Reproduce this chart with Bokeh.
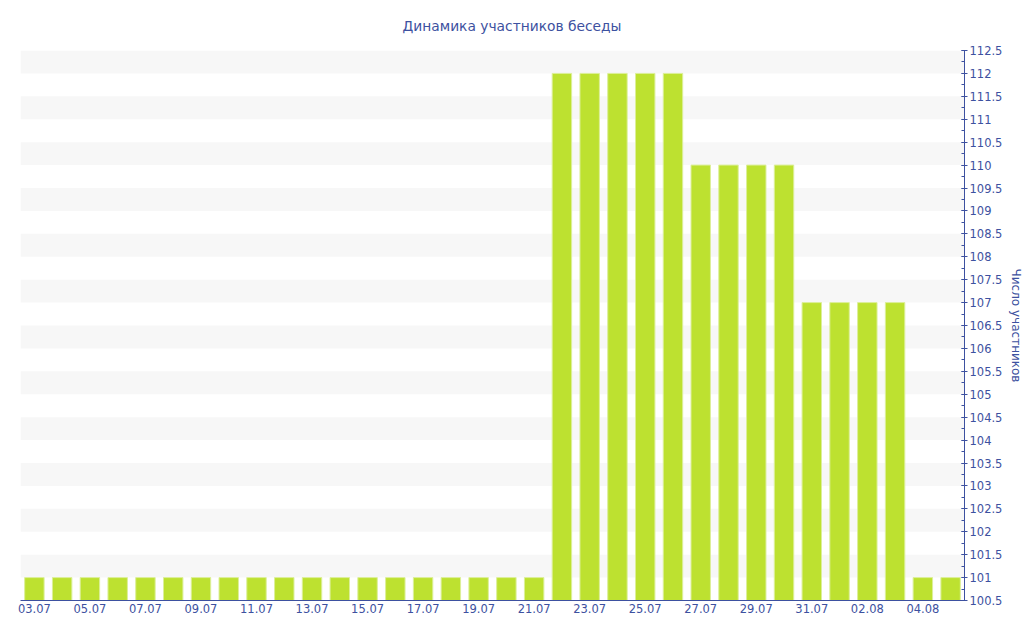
from bokeh.plotting import figure
from bokeh.models import Range1d, SingleIntervalTicker, FixedTicker, ColumnDataSource
from bokeh.embed import file_html
from bokeh.resources import INLINE

title_text = "Динамика участников беседы"
y_label = "Число участников"

dates = ["03.07", "04.07", "05.07", "06.07", "07.07", "08.07", "09.07", "10.07",
         "11.07", "12.07", "13.07", "14.07", "15.07", "16.07", "17.07", "18.07",
         "19.07", "20.07", "21.07", "22.07", "23.07", "24.07", "25.07", "26.07",
         "27.07", "28.07", "29.07", "30.07", "31.07", "01.08", "02.08", "03.08",
         "04.08", "05.08"]
members = [101, 101, 101, 101, 101, 101, 101, 101,
           101, 101, 101, 101, 101, 101, 101, 101,
           101, 101, 101, 112, 112, 112, 112, 112,
           110, 110, 110, 110, 107, 107, 107, 107,
           101, 101]
y_ticks = [100.5, 101, 101.5, 102, 102.5, 103, 103.5, 104, 104.5, 105, 105.5,
           106, 106.5, 107, 107.5, 108, 108.5, 109, 109.5, 110, 110.5, 111,
           111.5, 112, 112.5]
y_tick_labels = ["100.5", "101", "101.5", "102", "102.5", "103", "103.5", "104",
                 "104.5", "105", "105.5", "106", "106.5", "107", "107.5", "108",
                 "108.5", "109", "109.5", "110", "110.5", "111", "111.5", "112",
                 "112.5"]

TEXT = "#3d51a0"
BAR = "#bde130"
FONT = "DejaVu Sans"

idx = list(range(len(dates)))
src = ColumnDataSource(dict(x=idx, top=members, date=dates))

p = figure(frame_width=944, frame_height=550,
           output_backend="svg", toolbar_location=None,
           x_range=Range1d(-0.5, len(dates) - 0.5),
           y_range=Range1d(y_ticks[0], y_ticks[-1]),
           y_axis_location="right",
           min_border_left=20, min_border_top=50, min_border_bottom=36,
           min_border_right=0)
p.outline_line_color = None
p.background_fill_color = "white"

# title (left-aligned with an offset so that it sits centred on the page)
p.title.text = title_text
p.title.align = "left"
p.title.offset = 382
p.title.vertical_align = "top"
p.title.standoff = 30
p.title.text_font = FONT
p.title.text_font_size = "13.8px"
p.title.text_font_style = "normal"
p.title.text_color = TEXT

p.vbar(x="x", top="top", bottom=y_ticks[0], width=0.7, source=src,
       fill_color=BAR, line_color="#dcef99", line_width=1)

# y axis
yax = p.yaxis[0]
yax.ticker = SingleIntervalTicker(interval=0.5, num_minor_ticks=2)
yax.major_label_overrides = {t: l for t, l in zip(y_ticks, y_tick_labels)}
yax.axis_label = y_label
yax.axis_label_text_font = FONT
yax.axis_label_text_font_size = "12px"
yax.axis_label_text_font_style = "normal"
yax.axis_label_text_color = TEXT
yax.axis_label_standoff = 4
yax.major_label_text_font = FONT
yax.major_label_text_font_size = "11.5px"
yax.major_label_text_color = TEXT
yax.major_label_standoff = 2
yax.axis_line_color = TEXT
yax.major_tick_line_color = TEXT
yax.minor_tick_line_color = TEXT
yax.major_tick_in = 3
yax.major_tick_out = 3
yax.minor_tick_in = 3
yax.minor_tick_out = 0

# x axis
xax = p.xaxis[0]
xax.ticker = FixedTicker(ticks=idx[::2])
xax.major_label_overrides = {i: dates[i] for i in idx[::2]}
xax.major_label_text_font = FONT
xax.major_label_text_font_size = "11.5px"
xax.major_label_text_color = TEXT
xax.major_label_standoff = 3
xax.axis_line_color = TEXT
xax.major_tick_line_color = None
xax.minor_tick_line_color = None
xax.major_tick_in = 0
xax.major_tick_out = 0

# grid bands
p.xgrid.grid_line_color = None
p.ygrid.grid_line_color = None
p.ygrid.band_fill_color = "#f7f7f7"
p.ygrid.band_fill_alpha = 1.0

open("out.html", "w").write(file_html(p, INLINE))
